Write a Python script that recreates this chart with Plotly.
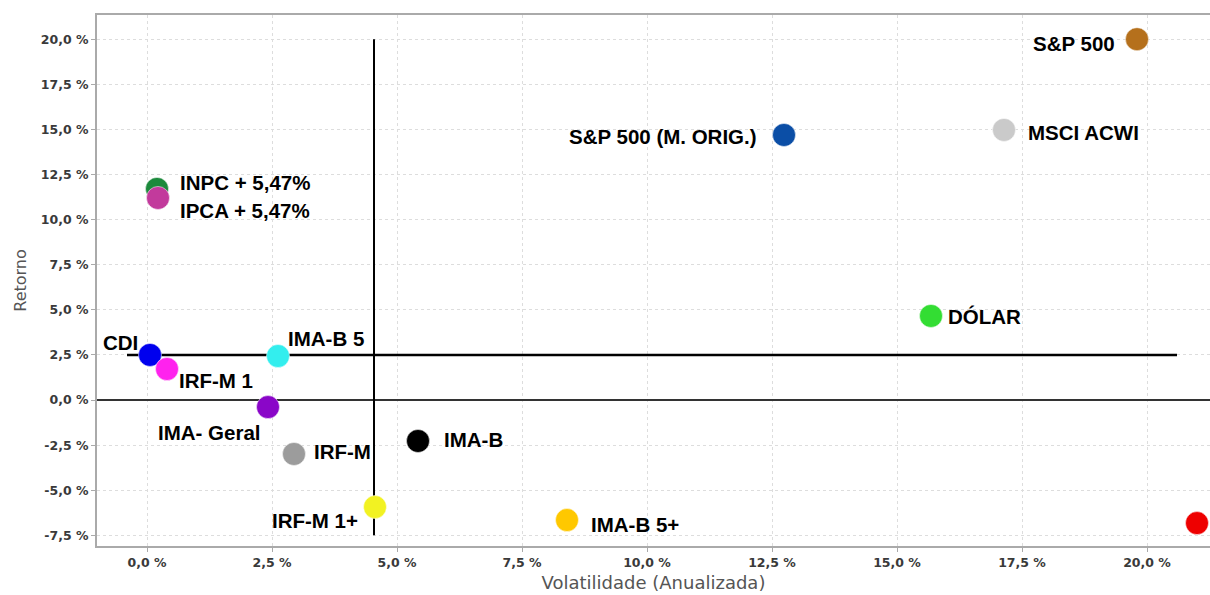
import plotly.graph_objects as go

names = ["S&P 500", "S&P 500 (M. ORIG.)", "MSCI ACWI", "INPC + 5,47%", "IPCA + 5,47%",
         "DÓLAR", "CDI", "IMA-B 5", "IRF-M 1", "IMA- Geral", "IRF-M", "IMA-B",
         "IRF-M 1+", "IMA-B 5+", ""]
volatility = [19.8, 12.74, 17.14, 0.2, 0.22, 15.68, 0.06, 2.62, 0.4, 2.42, 2.94, 5.42, 4.56, 8.4, 21.0]
returns = [20.0, 14.69, 14.97, 11.7, 11.2, 4.66, 2.5, 2.44, 1.72, -0.39, -2.99, -2.27, -5.93, -6.65, -6.82]
colors = ["#b5701c", "#0b4ea6", "#cacaca", "#1c8a3c", "#c23a9c", "#33dd33", "#0000ee",
          "#33eeee", "#ff22ee", "#8a06c8", "#9c9c9c", "#000000", "#f2f222", "#ffc800", "#ee0000"]

x_ticks = [0, 2.5, 5, 7.5, 10, 12.5, 15, 17.5, 20]
x_ticktext = ["0,0 %", "2,5 %", "5,0 %", "7,5 %", "10,0 %", "12,5 %", "15,0 %", "17,5 %", "20,0 %"]
y_ticks = [-7.5, -5, -2.5, 0, 2.5, 5, 7.5, 10, 12.5, 15, 17.5, 20]
y_ticktext = ["-7,5 %", "-5,0 %", "-2,5 %", "0,0 %", "2,5 %", "5,0 %", "7,5 %", "10,0 %",
              "12,5 %", "15,0 %", "17,5 %", "20,0 %"]

# reference lines
vline_x = 4.54
vline_y = [-7.5, 20.0]
hline_y = 2.5
hline_x = [-0.4, 20.6]

# label placement (anchor, xshift, yshift)
label_pos = [("right", -20, -4), ("right", -25, -2), ("left", 22, -3), ("left", 21, 6),
             ("left", 20, -13), ("left", 15, -1), ("right", -10, 12), ("left", 8, 18),
             ("left", 10, -11), ("center", -59, -25), ("left", 18, 2), ("left", 24, 1),
             ("right", -15, -13), ("left", 22, -4), ("left", 0, 0)]

fig = go.Figure()

fig.add_trace(go.Scatter(x=[vline_x, vline_x], y=vline_y, mode="lines",
                         line=dict(color="black", width=2), hoverinfo="skip", showlegend=False))
fig.add_trace(go.Scatter(x=hline_x, y=[hline_y, hline_y], mode="lines",
                         line=dict(color="black", width=2.5), hoverinfo="skip", showlegend=False))

fig.add_trace(go.Scatter(
    x=volatility, y=returns, mode="markers",
    marker=dict(size=23, color=colors, line=dict(width=1, color="rgba(255,255,255,0.5)")),
    showlegend=False, hovertext=names))

for n, xv, yv, (anc, xs, ys) in zip(names, volatility, returns, label_pos):
    if not n:
        continue
    fig.add_annotation(x=xv, y=yv, text=n, showarrow=False, xanchor=anc, yanchor="middle",
                       xshift=xs, yshift=ys,
                       font=dict(family="Liberation Sans, Arial", size=20.5, color="black", weight="bold"))

fig.update_layout(
    width=1210, height=595,
    margin=dict(l=97, r=0, t=15, b=49),
    plot_bgcolor="white", paper_bgcolor="white",
    xaxis=dict(range=[-1.0, 21.26], tickvals=x_ticks, ticktext=x_ticktext,
               showgrid=True, gridcolor="#dddddd", griddash="dot", gridwidth=1,
               showline=True, linecolor="#aaaaaa", linewidth=2, mirror=True,
               ticks="outside", ticklen=4, tickcolor="#aaaaaa", zeroline=False,
               tickfont=dict(family="DejaVu Sans", size=12.5, color="#3a3a3a", weight="bold"),
               title=dict(text="Volatilidade (Anualizada)", standoff=7,
                          font=dict(family="DejaVu Sans", size=18, color="#555555"))),
    yaxis=dict(range=[-8.09, 21.34], tickvals=y_ticks, ticktext=y_ticktext,
               showgrid=True, gridcolor="#dddddd", griddash="dot", gridwidth=1,
               showline=True, linecolor="#aaaaaa", linewidth=2,
               ticks="outside", ticklen=4, tickcolor="#aaaaaa",
               zeroline=True, zerolinecolor="#333333", zerolinewidth=1.5,
               tickfont=dict(family="DejaVu Sans", size=12.5, color="#3a3a3a", weight="bold"),
               title=dict(text="Retorno", standoff=10,
                          font=dict(family="DejaVu Sans", size=16, color="#555555"))),
)

fig.write_html("out.html")
